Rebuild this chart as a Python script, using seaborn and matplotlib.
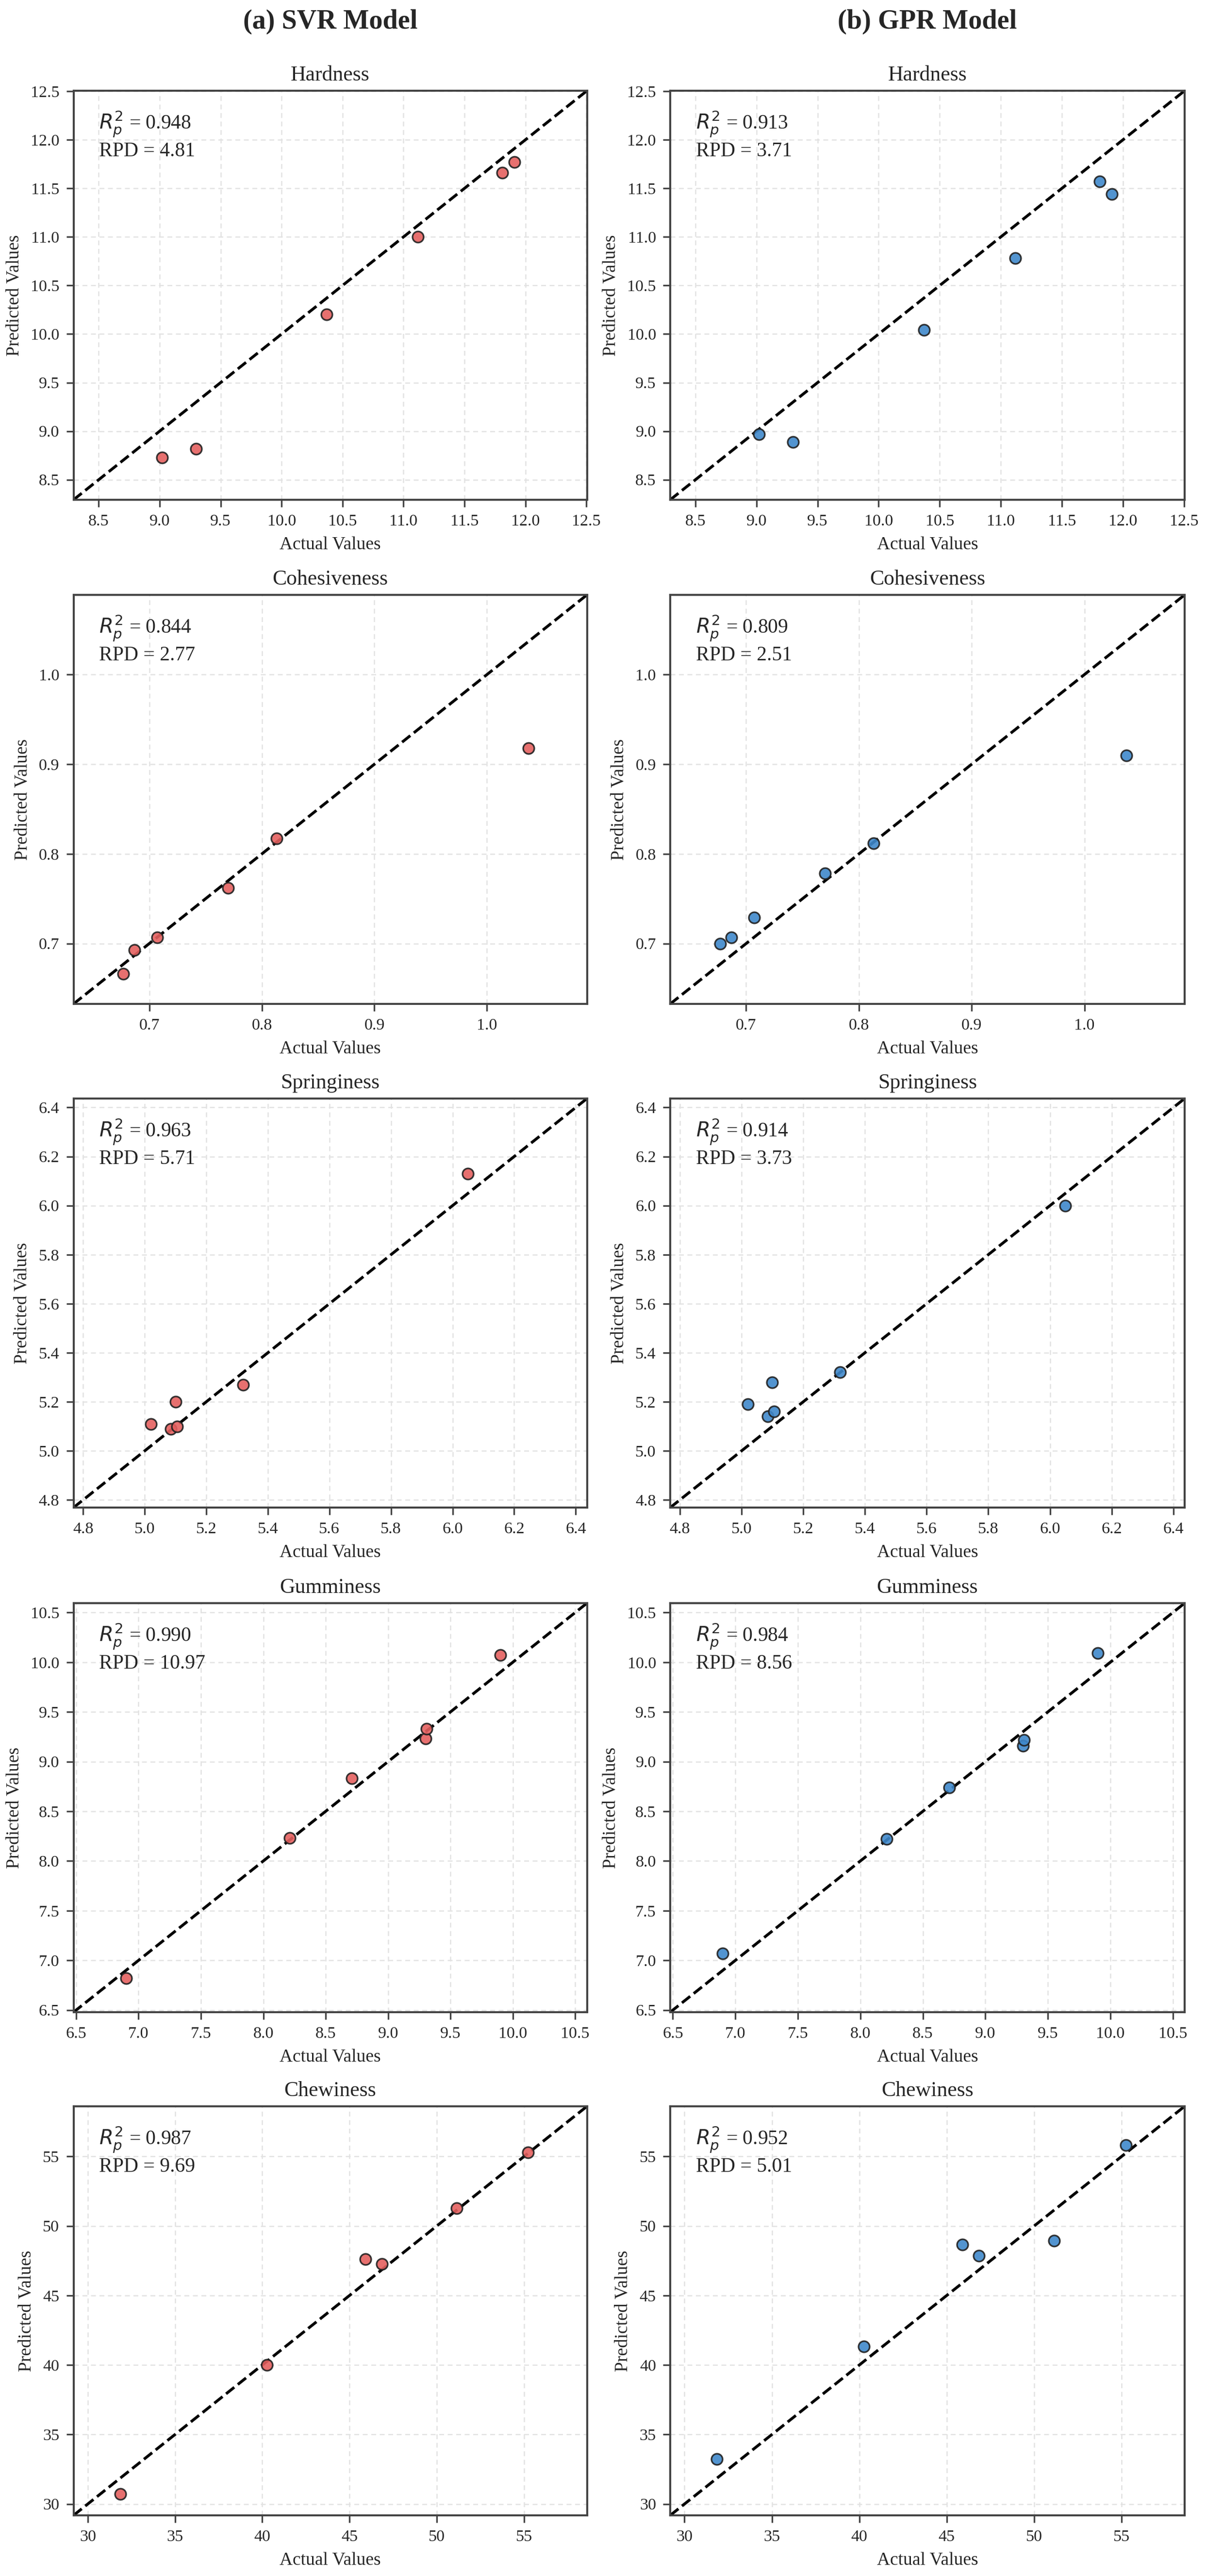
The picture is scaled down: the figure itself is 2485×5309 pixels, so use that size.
import numpy as np
import pandas as pd
import matplotlib
matplotlib.use("Agg")
import matplotlib.pyplot as plt
from matplotlib.ticker import MultipleLocator
import seaborn as sns

# ---------------------------------------------------------------
# Data
# ---------------------------------------------------------------
attributes = ["Hardness", "Cohesiveness", "Springiness", "Gumminess", "Chewiness"]

hardness_actual = [9.02, 9.30, 10.37, 11.12, 11.81, 11.91]
hardness_svr = [8.73, 8.82, 10.20, 11.00, 11.66, 11.77]
hardness_gpr = [8.97, 8.89, 10.04, 10.78, 11.57, 11.44]

cohesiveness_actual = [0.677, 0.687, 0.707, 0.770, 0.813, 1.037]
cohesiveness_svr = [0.666, 0.693, 0.707, 0.762, 0.817, 0.918]
cohesiveness_gpr = [0.700, 0.707, 0.729, 0.778, 0.812, 0.910]

springiness_actual = [5.02, 5.085, 5.106, 5.10, 5.32, 6.05]
springiness_svr = [5.11, 5.09, 5.10, 5.20, 5.27, 6.13]
springiness_gpr = [5.19, 5.14, 5.16, 5.28, 5.32, 6.00]

gumminess_actual = [6.90, 8.21, 8.71, 9.30, 9.31, 9.90]
gumminess_svr = [6.82, 8.23, 8.83, 9.23, 9.33, 10.07]
gumminess_gpr = [7.07, 8.22, 8.74, 9.16, 9.22, 10.09]

chewiness_actual = [31.86, 40.27, 45.91, 46.85, 51.15, 55.24]
chewiness_svr = [30.72, 40.00, 47.61, 47.25, 51.28, 55.31]
chewiness_gpr = [33.22, 41.33, 48.65, 47.85, 48.95, 55.82]

r2_svr = [0.948, 0.844, 0.963, 0.990, 0.987]
rpd_svr = [4.81, 2.77, 5.71, 10.97, 9.69]
r2_gpr = [0.913, 0.809, 0.914, 0.984, 0.952]
rpd_gpr = [3.71, 2.51, 3.73, 8.56, 5.01]

tick_steps = [0.5, 0.1, 0.2, 0.5, 5]

actual = [hardness_actual, cohesiveness_actual, springiness_actual,
          gumminess_actual, chewiness_actual]
pred_svr = [hardness_svr, cohesiveness_svr, springiness_svr,
            gumminess_svr, chewiness_svr]
pred_gpr = [hardness_gpr, cohesiveness_gpr, springiness_gpr,
            gumminess_gpr, chewiness_gpr]

# ---------------------------------------------------------------
# Style
# ---------------------------------------------------------------
sns.set_style("ticks")
plt.rcParams["font.family"] = ["Liberation Serif", "DejaVu Serif"]
plt.rcParams["mathtext.fontset"] = "dejavusans"

W, H, DPI = 2485, 5309, 300
fig = plt.figure(figsize=(W / DPI, H / DPI), dpi=DPI)

col_left = [151.5, 1381]
col_width = [1058, 1060]
row_top = [187, 1226, 2264, 3304, 4341]
ax_h = 843

models = [
    ("(a) SVR Model", pred_svr, r2_svr, rpd_svr, "#E5605F"),
    ("(b) GPR Model", pred_gpr, r2_gpr, rpd_gpr, "#3F88CB"),
]

for c, (model_name, preds, r2s, rpds, color) in enumerate(models):
    fig.text((col_left[c] + col_width[c] / 2) / W, 1 - 45 / H, model_name,
             ha="center", va="center", fontsize=13.5, fontweight="bold")
    for r, attr in enumerate(attributes):
        ax = fig.add_axes([col_left[c] / W, 1 - (row_top[r] + ax_h) / H,
                           col_width[c] / W, ax_h / H])
        all_vals = actual[r] + pred_svr[r] + pred_gpr[r]
        lo = min(all_vals) * 0.95
        hi = max(all_vals) * 1.05

        df = pd.DataFrame({"actual": actual[r], "pred": preds[r]})
        ax.grid(True, linestyle=(0, (4, 3)), color="#e2e2e2", linewidth=0.6,
                zorder=0)
        ax.plot([lo, hi], [lo, hi], color="black", linestyle="--",
                linewidth=1.4, zorder=2)
        sns.scatterplot(data=df, x="actual", y="pred", ax=ax, color=color,
                        edgecolor="#222222", linewidth=0.8, s=30, alpha=0.9,
                        zorder=3)

        ax.set_xlim(lo, hi)
        ax.set_ylim(lo, hi)
        ax.xaxis.set_major_locator(MultipleLocator(tick_steps[r]))
        ax.yaxis.set_major_locator(MultipleLocator(tick_steps[r]))
        ax.set_axisbelow(True)

        ax.set_title(attr, fontsize=10.5, pad=5)
        ax.set_xlabel("Actual Values", fontsize=9)
        ax.set_ylabel("Predicted Values", fontsize=9)
        ax.tick_params(labelsize=8.2, width=0.8, length=3.5, color="#444444")
        for sp in ax.spines.values():
            sp.set_color("#444444")
            sp.set_linewidth(1.0)

        ax.text(0.05, 0.955, f"$R_p^2$ = {r2s[r]:.3f}\nRPD = {rpds[r]:.2f}",
                transform=ax.transAxes, ha="left", va="top", fontsize=10,
                linespacing=1.25)

fig.savefig("out.png", dpi=DPI, facecolor="white")
